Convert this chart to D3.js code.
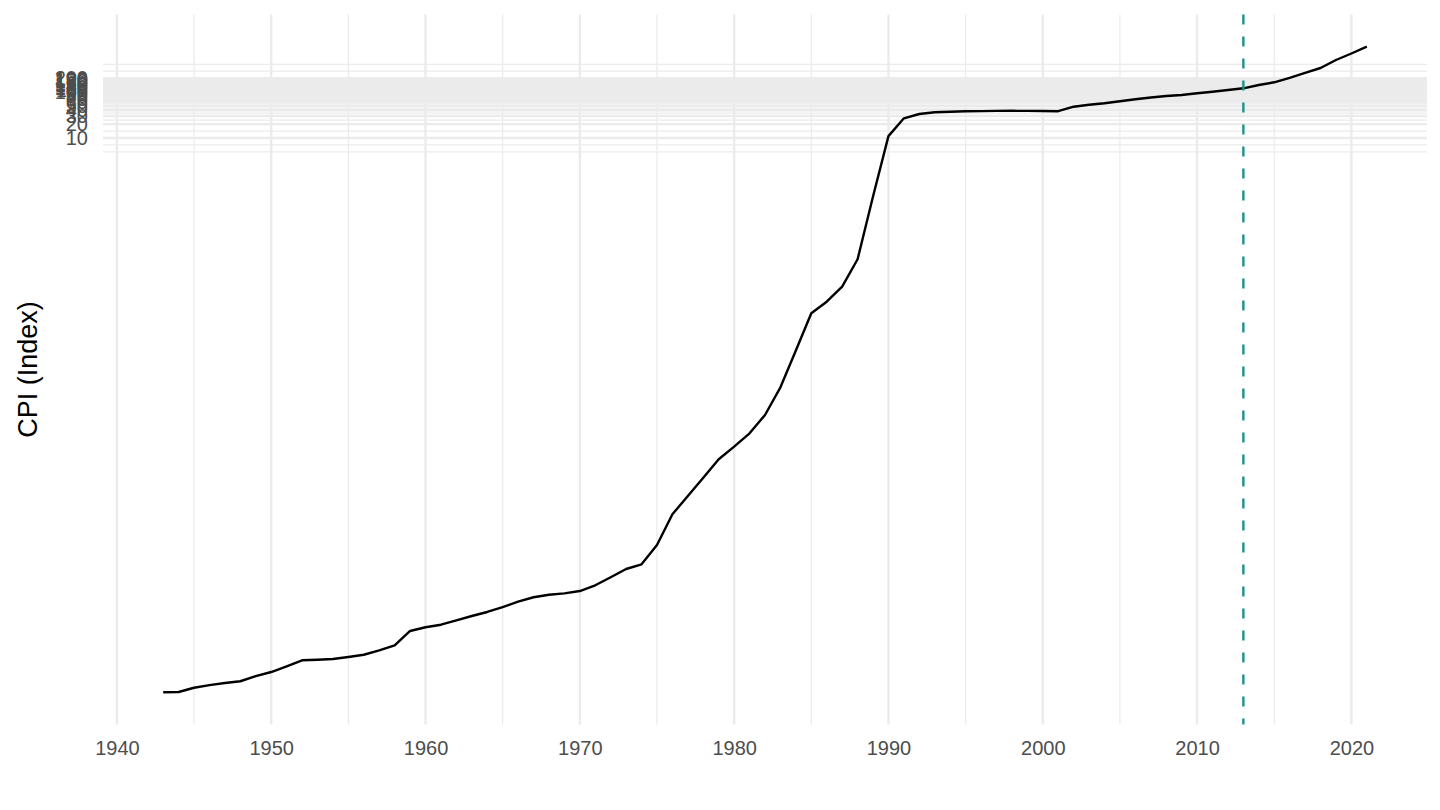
<!DOCTYPE html>
<html>
<head>
<meta charset="utf-8">
<script src="https://cdn.jsdelivr.net/npm/d3@7"></script>
<style>
  html, body { margin: 0; padding: 0; background: #fff; }
  svg { display: block; font-family: "Liberation Sans", Arial, Helvetica, sans-serif; }
</style>
</head>
<body>
<div id="chart"></div>
<script>
// CPI index, annual (log scale)
const years = [
  1943, 1944, 1945, 1946, 1947, 1948, 1949, 1950, 1951, 1952,
  1953, 1954, 1955, 1956, 1957, 1958, 1959, 1960, 1961, 1962,
  1963, 1964, 1965, 1966, 1967, 1968, 1969, 1970, 1971, 1972,
  1973, 1974, 1975, 1976, 1977, 1978, 1979, 1980, 1981, 1982,
  1983, 1984, 1985, 1986, 1987, 1988, 1989, 1990, 1991, 1992,
  1993, 1994, 1995, 1996, 1997, 1998, 1999, 2000, 2001, 2002,
  2003, 2004, 2005, 2006, 2007, 2008, 2009, 2010, 2011, 2012,
  2013, 2014, 2015, 2016, 2017, 2018, 2019, 2020, 2021
];
const cpi = [
  8.91e-12, 9.05e-12, 1.12e-11, 1.28e-11, 1.42e-11, 1.55e-11, 2.01e-11, 2.46e-11, 3.27e-11, 4.42e-11,
  4.56e-11, 4.72e-11, 5.21e-11, 5.85e-11, 7.30e-11, 9.37e-11, 1.92e-10, 2.31e-10, 2.63e-10, 3.27e-10,
  4.06e-10, 4.97e-10, 6.37e-10, 8.32e-10, 1.04e-9, 1.18e-9, 1.26e-9, 1.42e-9, 1.89e-9, 2.82e-9,
  4.27e-9, 5.41e-9, 1.42e-8, 6.61e-8, 1.65e-7, 4.12e-7, 1.04e-6, 1.95e-6, 3.80e-6, 9.51e-6,
  3.80e-5, 2.40e-4, 1.55e-3, 2.76e-3, 5.85e-3, 2.31e-2, 0.535, 11.0, 26.8, 33.2,
  36.2, 37.3, 38.0, 38.4, 38.8, 39.0, 38.8, 38.6, 38.2, 47.9,
  52.9, 56.8, 63.1, 69.7, 75.9, 81.9, 86.1, 93.7, 101.5, 110.5,
  120.3, 142.0, 162.5, 203.5, 261.4, 332.3, 496, 687, 966
];
const xTicks = [1940, 1950, 1960, 1970, 1980, 1990, 2000, 2010, 2020];
const yTicks = [10, 20, 30, 40, 50, 60, 70, 80, 90, 100,
                110, 120, 130, 140, 150, 160, 170, 180, 190, 200];
const markerYear = 2013;

const data = years.map((yr, i) => ({ year: yr, value: cpi[i] }));

const width = 1440;
const height = 810;
const panel = { left: 103, right: 1427, top: 14.4, bottom: 724.6 };

const svg = d3.select("#chart")
  .append("svg")
  .attr("width", width)
  .attr("height", height);

// 5% expansion like ggplot
const [xa, xb] = d3.extent(years);
const xPad = (xb - xa) * 0.05;
const x = d3.scaleLinear()
  .domain([xa - xPad, xb + xPad])
  .range([panel.left, panel.right]);

const [la, lb] = d3.extent(cpi).map(Math.log10);
const yPad = (lb - la) * 0.05;
const y = d3.scaleLog()
  .domain([10 ** (la - yPad), 10 ** (lb + yPad)])
  .range([panel.bottom, panel.top]);

// minor breaks, midway between majors (computed in transformed space)
function minorBreaks(major, lo, hi) {
  const b = major.slice();
  const bd = b[1] - b[0];
  if (lo < b[0]) b.unshift(b[0] - bd);
  if (hi > b[b.length - 1]) b.push(b[b.length - 1] + bd);
  const out = [];
  for (let i = 0; i < b.length - 1; i++) out.push(b[i], (b[i] + b[i + 1]) / 2);
  out.push(b[b.length - 1]);
  return out.filter(v => v >= lo && v <= hi && !major.some(m => Math.abs(m - v) < 1e-9));
}

const xMinor = minorBreaks(xTicks, x.domain()[0], x.domain()[1]);
const yLogDomain = y.domain().map(Math.log10);
const yMinor = minorBreaks(yTicks.map(Math.log10), yLogDomain[0], yLogDomain[1])
  .map(v => 10 ** v);

const grid = svg.append("g").attr("stroke", "#EBEBEB").attr("fill", "none");

grid.selectAll(".xminor").data(xMinor).enter().append("line")
  .attr("x1", d => x(d)).attr("x2", d => x(d))
  .attr("y1", panel.top).attr("y2", panel.bottom)
  .attr("stroke-width", 1.2);

grid.selectAll(".yminor").data(yMinor).enter().append("line")
  .attr("x1", panel.left).attr("x2", panel.right)
  .attr("y1", d => y(d)).attr("y2", d => y(d))
  .attr("stroke-width", 1.2);

grid.selectAll(".xmajor").data(xTicks).enter().append("line")
  .attr("x1", d => x(d)).attr("x2", d => x(d))
  .attr("y1", panel.top).attr("y2", panel.bottom)
  .attr("stroke-width", 2.4);

grid.selectAll(".ymajor").data(yTicks).enter().append("line")
  .attr("x1", panel.left).attr("x2", panel.right)
  .attr("y1", d => y(d)).attr("y2", d => y(d))
  .attr("stroke-width", 2.4);

// CPI line
const line = d3.line()
  .x(d => x(d.year))
  .y(d => y(d.value));

svg.append("path")
  .datum(data)
  .attr("fill", "none")
  .attr("stroke", "#000")
  .attr("stroke-width", 2.4)
  .attr("stroke-linejoin", "round")
  .attr("d", line);

// vertical marker
svg.append("line")
  .attr("x1", x(markerYear)).attr("x2", x(markerYear))
  .attr("y1", panel.top).attr("y2", panel.bottom)
  .attr("stroke", "#21908C")
  .attr("stroke-width", 2.4)
  .attr("stroke-dasharray", "10 12");

// axes (no lines, no ticks)
const xAxis = svg.append("g")
  .attr("transform", `translate(0, ${panel.bottom})`)
  .call(d3.axisBottom(x).tickValues(xTicks).tickFormat(d3.format("d")).tickSize(0).tickPadding(16));

const yAxis = svg.append("g")
  .attr("transform", `translate(${panel.left}, 0)`)
  .call(d3.axisLeft(y).tickValues(yTicks).tickFormat(d3.format("d")).tickSize(0).tickPadding(15));

[xAxis, yAxis].forEach(g => {
  g.select(".domain").remove();
  g.selectAll("text")
    .attr("fill", "#4D4D4D")
    .style("font-size", "20px")
    .style("font-family", "'Liberation Sans', Arial, sans-serif");
});

svg.append("text")
  .attr("transform", `translate(37, ${(panel.top + panel.bottom) / 2}) rotate(-90)`)
  .attr("text-anchor", "middle")
  .attr("fill", "#000")
  .style("font-size", "27px")
  .text("CPI (Index)");
</script>
</body>
</html>
